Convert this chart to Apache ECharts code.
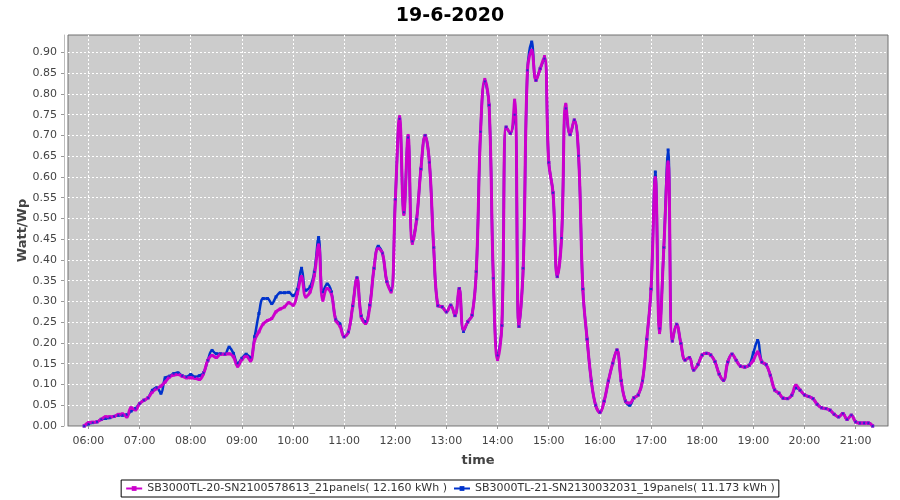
<!DOCTYPE html>
<html>
<head>
<meta charset="utf-8">
<script src="https://cdn.jsdelivr.net/npm/echarts@6/dist/echarts.min.js"></script>
<style>html,body{margin:0;padding:0;background:#fff}#c{width:900px;height:500px}</style>
</head>
<body>
<div id="c"></div>
<script>
// ---- data ----
const titleText = '19-6-2020';
const nameMagenta = 'SB3000TL-20-SN2100578613_21panels( 12.160 kWh )';
const nameBlue = 'SB3000TL-21-SN2130032031_19panels( 11.173 kWh )';
const startMinute = 355;   // 05:55, samples every 5 minutes
const stepMinutes = 5;
const xTickLabels = ['06:00','07:00','08:00','09:00','10:00','11:00','12:00','13:00','14:00','15:00','16:00','17:00','18:00','19:00','20:00','21:00'];
const yTickValues = [0,0.05,0.10,0.15,0.20,0.25,0.30,0.35,0.40,0.45,0.50,0.55,0.60,0.65,0.70,0.75,0.80,0.85,0.90];

const magentaValues = [
  0,
  .008,.009,.010,.016,.022,.022,.023,.028,.029,.022,.044,.039,
  .054,.062,.068,.082,.090,.096,.106,.118,.123,.124,.120,.116,
  .116,.115,.112,.126,.158,.170,.165,.173,.173,.174,.167,.144,
  .160,.168,.157,.207,.227,.246,.254,.259,.275,.282,.287,.297,
  .291,.319,.360,.311,.323,.363,.436,.303,.331,.319,.255,.241,
  .215,.227,.289,.356,.263,.247,.287,.380,.428,.416,.348,.323,
  .544,.745,.510,.700,.440,.498,.619,.700,.635,.430,.290,.287,
  .275,.291,.266,.331,.231,.251,.267,.372,.709,.835,.773,.356,
  .160,.242,.720,.705,.785,.240,.380,.857,.905,.833,.861,.890,
  .635,.562,.360,.453,.775,.702,.737,.651,.330,.209,.108,.050,
  .033,.060,.109,.151,.183,.109,.060,.055,.068,.075,.109,.209,
  .330,.598,.225,.430,.636,.205,.245,.199,.159,.165,.135,.148,
  .171,.175,.171,.155,.125,.110,.154,.173,.158,.144,.142,.146,
  .158,.178,.154,.148,.122,.087,.079,.067,.066,.074,.098,.086,
  .075,.071,.066,.052,.044,.042,.038,.028,.022,.030,.016,.026,
  .010,.007,.007,.007,0
];
const blueValues = [
  0,
  .005,.008,.010,.016,.018,.020,.023,.026,.026,.027,.036,.042,
  .054,.062,.068,.086,.092,.079,.116,.120,.126,.128,.121,.118,
  .124,.118,.121,.128,.158,.182,.174,.174,.173,.190,.175,.151,
  .163,.173,.165,.215,.271,.307,.307,.295,.311,.321,.321,.322,
  .314,.329,.380,.327,.335,.371,.454,.323,.342,.323,.257,.246,
  .215,.227,.289,.357,.265,.251,.291,.380,.433,.416,.348,.327,
  .546,.740,.515,.695,.445,.498,.619,.700,.635,.430,.290,.287,
  .275,.291,.266,.331,.228,.251,.267,.372,.709,.830,.773,.356,
  .170,.242,.720,.705,.750,.240,.380,.857,.925,.833,.861,.885,
  .635,.562,.360,.453,.765,.702,.737,.651,.330,.209,.108,.050,
  .033,.060,.109,.151,.183,.109,.060,.050,.068,.075,.109,.209,
  .330,.612,.235,.430,.665,.205,.245,.199,.159,.165,.135,.148,
  .171,.175,.171,.155,.125,.110,.154,.173,.158,.144,.142,.146,
  .176,.206,.154,.148,.122,.087,.079,.067,.066,.074,.092,.086,
  .075,.071,.066,.052,.044,.042,.038,.028,.022,.030,.016,.026,
  .010,.007,.007,.007,0
];

// ---- build ----
function toMin(s){const p=s.split(':');return (+p[0])*60+(+p[1]);}
function fmt(m){const h=Math.floor(m/60),mm=Math.round(m%60);return (h<10?'0':'')+h+':'+(mm<10?'0':'')+mm;}
const xTickValues = xTickLabels.map(toMin);
const pairs = vals => vals.map((v,i)=>[startMinute+i*stepMinutes, v]);
const magentaData = pairs(magentaValues);
const blueData = pairs(blueValues);

const FONT = 'DejaVu Sans';
const chart = echarts.init(document.getElementById('c'), null, {renderer:'canvas'});
chart.setOption({
  animation:false,
  backgroundColor:'#ffffff',
  title:{text:titleText,left:'center',top:2,textStyle:{fontFamily:FONT,fontSize:19,fontWeight:'bold',color:'#000'}},
  grid:{left:68,right:12,top:35,bottom:74,show:true,backgroundColor:'#cccccc',borderColor:'#707070',borderWidth:1},
  xAxis:{
    type:'value',min:336,max:1298,offset:4,
    name:'time',nameLocation:'middle',nameGap:24,nameMoveOverlap:false,
    nameTextStyle:{fontFamily:FONT,fontSize:13,fontWeight:'bold',color:'#444'},
    axisLine:{show:true,lineStyle:{color:'#bdbdbd',width:1}},
    axisTick:{show:true,length:3,lineStyle:{color:'#999'},customValues:xTickValues},
    axisLabel:{customValues:xTickValues,formatter:v=>fmt(v),fontFamily:FONT,fontSize:11,color:'#444',margin:6},
    splitLine:{show:true,lineStyle:{color:'#ffffff',type:[2,2],width:1}}
  },
  yAxis:{
    type:'value',min:0,max:0.942,offset:4,
    name:'Watt/Wp',nameLocation:'middle',nameGap:35,nameMoveOverlap:false,
    nameTextStyle:{fontFamily:FONT,fontSize:13,fontWeight:'bold',color:'#444'},
    axisLine:{show:true,lineStyle:{color:'#bdbdbd',width:1}},
    axisTick:{show:true,length:3,lineStyle:{color:'#999'},customValues:yTickValues},
    axisLabel:{customValues:yTickValues,formatter:v=>v.toFixed(2),fontFamily:FONT,fontSize:11,color:'#444',margin:7},
    splitLine:{show:true,lineStyle:{color:'#ffffff',type:[2,2],width:1}}
  },
  legend:{
    data:[nameMagenta,nameBlue],bottom:3,left:'center',
    borderColor:'#000',borderWidth:1,padding:[3,4,3,4],itemGap:6,itemWidth:16,itemHeight:6,
    textStyle:{fontFamily:FONT,fontSize:11,color:'#333'}
  },
  series:[
    {name:nameBlue,type:'line',data:blueData,smooth:0.4,symbol:'rect',symbolSize:3,showSymbol:true,
     lineStyle:{color:'#0033cc',width:2.5},itemStyle:{color:'#0033cc'},z:2,emphasis:{disabled:true}},
    {name:nameMagenta,type:'line',data:magentaData,smooth:0.4,symbol:'rect',symbolSize:3,showSymbol:true,
     lineStyle:{color:'#cc00cc',width:3},itemStyle:{color:'#cc00cc'},z:3,emphasis:{disabled:true}},
    {name:nameBlue,type:'scatter',data:blueData,symbol:'rect',symbolSize:2,
     itemStyle:{color:'#0033cc'},z:4,emphasis:{disabled:true},silent:true}
  ]
});
</script>
</body>
</html>
